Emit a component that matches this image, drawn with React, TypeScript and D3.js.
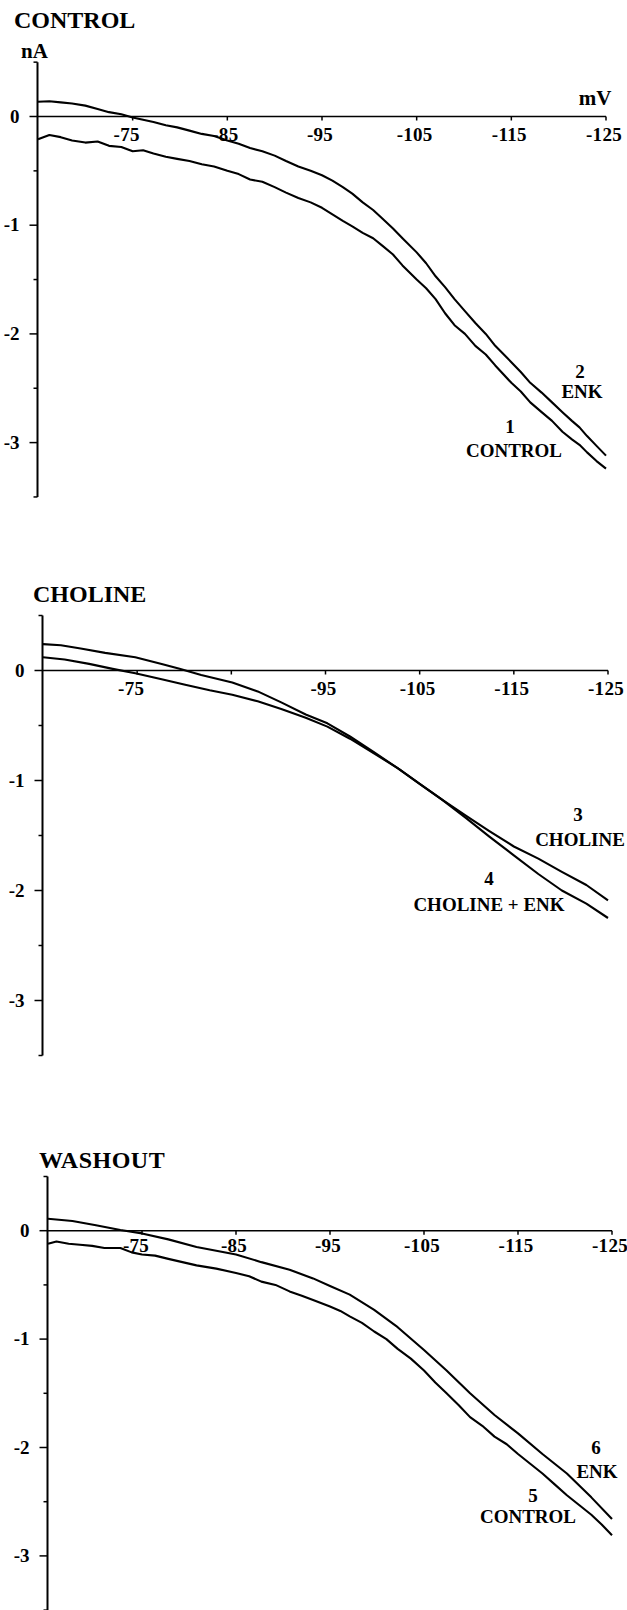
import React from "react";
import * as d3 from "d3";

// ---------- data (mV, nA) ----------
const xTicks = [-75, -85, -95, -105, -115, -125];
const yTicksMajor = [0, -1, -2, -3];
const yTicksMinor = [0.5, -0.5, -1.5, -2.5, -3.5];

// Panel 1: CONTROL
const p1Mv = [-65, -66.2, -67.4, -68.6, -70, -71.3, -72.5, -73.8, -75, -76.1, -77.2, -78.5, -79.7, -81, -82.3, -83.6, -85, -86.2, -87.4, -88.7, -90, -91.2, -92.5, -93.8, -95, -96.1, -97.2, -98.2, -99.3, -100.4, -101.4, -102.5, -103.5, -105, -106, -107, -108, -109, -110.1, -111.2, -112.3, -113.3, -115, -116, -117, -118.2, -119.3, -120.4, -121.4, -122.2, -123, -124, -125];
const p1Enk = [0.135, 0.14, 0.13, 0.12, 0.1, 0.07, 0.04, 0.02, -0.01, -0.03, -0.05, -0.08, -0.1, -0.13, -0.16, -0.18, -0.22, -0.25, -0.29, -0.32, -0.36, -0.41, -0.46, -0.5, -0.54, -0.59, -0.65, -0.71, -0.79, -0.86, -0.94, -1.03, -1.12, -1.25, -1.35, -1.47, -1.57, -1.68, -1.79, -1.9, -2.0, -2.11, -2.26, -2.35, -2.45, -2.54, -2.63, -2.72, -2.8, -2.86, -2.94, -3.03, -3.12];
const p1Control = [-0.21, -0.17, -0.19, -0.22, -0.24, -0.23, -0.27, -0.28, -0.32, -0.31, -0.34, -0.37, -0.39, -0.41, -0.44, -0.46, -0.5, -0.53, -0.58, -0.6, -0.65, -0.7, -0.75, -0.79, -0.84, -0.9, -0.96, -1.01, -1.07, -1.12, -1.19, -1.27, -1.37, -1.5, -1.58, -1.68, -1.81, -1.92, -2.0, -2.11, -2.19, -2.29, -2.45, -2.53, -2.63, -2.72, -2.8, -2.9, -2.97, -3.02, -3.09, -3.17, -3.24];

// Panel 2: CHOLINE
const p2MvCholine = [-65, -66.9, -69, -71.6, -74.8, -77.6, -79.5, -81.8, -85.1, -87.8, -90.3, -92.9, -95.2, -97.6, -100.1, -102.7, -105, -107.3, -109.9, -112.4, -115, -117.6, -120.1, -122.7, -125];
const p2Choline = [0.24, 0.23, 0.2, 0.16, 0.12, 0.06, 0.015, -0.04, -0.11, -0.19, -0.29, -0.4, -0.48, -0.6, -0.74, -0.89, -1.03, -1.17, -1.32, -1.46, -1.6, -1.71, -1.83, -1.95, -2.09];
const p2MvCholEnk = [-65, -67.3, -69.9, -72.4, -74.8, -77.6, -80.1, -82.7, -85.1, -87.8, -90.3, -92.9, -95.2, -97.6, -100.1, -102.7, -105, -107.3, -109.9, -112.4, -115, -117.6, -120.1, -122.7, -125];
const p2CholEnk = [0.12, 0.1, 0.06, 0.015, -0.025, -0.08, -0.13, -0.18, -0.22, -0.28, -0.35, -0.43, -0.51, -0.62, -0.75, -0.89, -1.03, -1.17, -1.34, -1.51, -1.68, -1.85, -2.0, -2.12, -2.25];

// Panel 3: WASHOUT
const p3MvEnk = [-65, -67.6, -70.1, -72.7, -75, -77.8, -80.8, -85, -87.7, -90.7, -93.2, -95, -97.1, -99.7, -102.2, -105, -107.4, -109.9, -112.5, -115, -117.6, -120.2, -122.8, -125];
const p3Enk = [0.11, 0.09, 0.05, 0.006, -0.025, -0.08, -0.15, -0.22, -0.29, -0.36, -0.44, -0.51, -0.59, -0.73, -0.89, -1.1, -1.29, -1.5, -1.7, -1.87, -2.06, -2.24, -2.46, -2.66];
const p3MvControl = [-65, -65.9, -67.2, -68.4, -69.7, -71, -72.7, -73.9, -75, -76.4, -77.8, -79.3, -80.8, -82.9, -85, -86.4, -87.7, -89.2, -90.7, -92, -93.2, -95, -96.1, -97.1, -98.4, -99.7, -101, -102.2, -103.6, -105, -106.2, -107.4, -108.7, -109.9, -111.2, -112.5, -113.8, -115, -116.3, -117.6, -118.9, -120.2, -121.5, -122.8, -123.9, -125];
const p3Control = [-0.12, -0.1, -0.12, -0.13, -0.14, -0.16, -0.16, -0.2, -0.22, -0.23, -0.26, -0.29, -0.32, -0.35, -0.39, -0.42, -0.47, -0.5, -0.56, -0.6, -0.64, -0.7, -0.74, -0.79, -0.85, -0.93, -1.0, -1.09, -1.18, -1.29, -1.4, -1.5, -1.61, -1.72, -1.8, -1.9, -1.97, -2.06, -2.15, -2.24, -2.34, -2.44, -2.53, -2.62, -2.71, -2.81];

const FONT = "'Liberation Serif', 'Times New Roman', Times, serif";

type Series = { mv: number[]; na: number[] };
type Lbl = { text: string; x: number; y: number; size?: number };

type PanelProps = {
  x0: number; x1: number; y0: number; k: number;
  title: string; titleX: number; titleY: number; titleSpacing?: number;
  series: Series[];
  labels: Lbl[];
  tickLabelDy: number;
  hideLabels?: number[];
  showUnits?: boolean;
};

function Panel(p: PanelProps) {
  const x = d3.scaleLinear().domain([-65, -125]).range([p.x0, p.x1]);
  const y = d3.scaleLinear().domain([0, -3]).range([p.y0, p.y0 + 3 * p.k]);
  const line = d3.line<[number, number]>().x((d) => x(d[0])).y((d) => y(d[1]));
  const ax = x(-65) - 0.5;
  return (
    <g>
      <text x={p.titleX} y={p.titleY} fontFamily={FONT} fontWeight="bold" fontSize={24} letterSpacing={p.titleSpacing || 0}>{p.title}</text>
      {p.showUnits && (
        <>
          <text x={21} y={58} fontFamily={FONT} fontWeight="bold" fontSize={21}>nA</text>
          <text x={x(-125) - 11} y={105} fontFamily={FONT} fontWeight="bold" fontSize={21} textAnchor="middle">mV</text>
        </>
      )}
      {/* y axis */}
      <line x1={ax} x2={ax} y1={y(0.5)} y2={y(-3.5)} stroke="#000" strokeWidth={2} />
      {yTicksMajor.map((t) => (
        <g key={"ym" + t}>
          <line x1={ax - 8} x2={ax} y1={y(t)} y2={y(t)} stroke="#000" strokeWidth={1.5} />
          <text x={ax - 18} y={y(t) + 6} textAnchor="end" fontFamily={FONT} fontWeight="bold" fontSize={19}>{t === 0 ? "0" : String(t)}</text>
        </g>
      ))}
      {yTicksMinor.map((t) => (
        <line key={"yn" + t} x1={ax - 4} x2={ax} y1={y(t)} y2={y(t)} stroke="#000" strokeWidth={1.5} />
      ))}
      {/* x axis */}
      <line x1={ax} x2={x(-125)} y1={y(0)} y2={y(0)} stroke="#000" strokeWidth={1.6} />
      {xTicks.map((t, i) => (
        <g key={"xt" + t}>
          <line x1={x(t)} x2={x(t)} y1={y(0)} y2={y(0) + 4} stroke="#000" strokeWidth={1.5} />
          {!(p.hideLabels || []).includes(t) && (
            <text x={x(t) + (i === 0 ? -6 : -2)} y={y(0) + p.tickLabelDy} textAnchor="middle" fontFamily={FONT} fontWeight="bold" fontSize={19} letterSpacing={0.3}>{String(t)}</text>
          )}
        </g>
      ))}
      {p.series.map((s, i) => (
        <path key={"s" + i} d={line(s.mv.map((v, j) => [v, s.na[j]] as [number, number])) || ""} fill="none" stroke="#000" strokeWidth={2.1} strokeLinejoin="round" />
      ))}
      {p.labels.map((l, i) => (
        <text key={"l" + i} x={l.x} y={l.y} textAnchor="middle" fontFamily={FONT} fontWeight="bold" fontSize={l.size || 19}>{l.text}</text>
      ))}
    </g>
  );
}

export default function App() {
  return (
    <svg width={627} height={1610} style={{ position: "absolute", left: 0, top: 0, background: "#fff" }}>
      <rect width={627} height={1610} fill="#fff" />
      <Panel x0={38} x1={606} y0={116.5} k={108.7} title="CONTROL" titleX={14} titleY={28} tickLabelDy={24} showUnits
        series={[{ mv: p1Mv, na: p1Enk }, { mv: p1Mv, na: p1Control }]}
        labels={[
          { text: "2", x: 580, y: 378 }, { text: "ENK", x: 582, y: 398 },
          { text: "1", x: 510, y: 433 }, { text: "CONTROL", x: 514, y: 457 },
        ]} />
      <Panel x0={43} x1={608} y0={670.5} k={110} title="CHOLINE" titleX={33} titleY={602} tickLabelDy={24} hideLabels={[-85]}
        series={[{ mv: p2MvCholine, na: p2Choline }, { mv: p2MvCholEnk, na: p2CholEnk }]}
        labels={[
          { text: "3", x: 578, y: 821 }, { text: "CHOLINE", x: 580, y: 846 },
          { text: "4", x: 489, y: 885 }, { text: "CHOLINE + ENK", x: 489, y: 911 },
        ]} />
      <Panel x0={48} x1={612} y0={1230.7} k={108.4} title="WASHOUT" titleX={39} titleY={1168} titleSpacing={0.5} tickLabelDy={21}
        series={[{ mv: p3MvEnk, na: p3Enk }, { mv: p3MvControl, na: p3Control }]}
        labels={[
          { text: "6", x: 596, y: 1454 }, { text: "ENK", x: 597, y: 1478 },
          { text: "5", x: 533, y: 1502 }, { text: "CONTROL", x: 528, y: 1523 },
        ]} />
    </svg>
  );
}
